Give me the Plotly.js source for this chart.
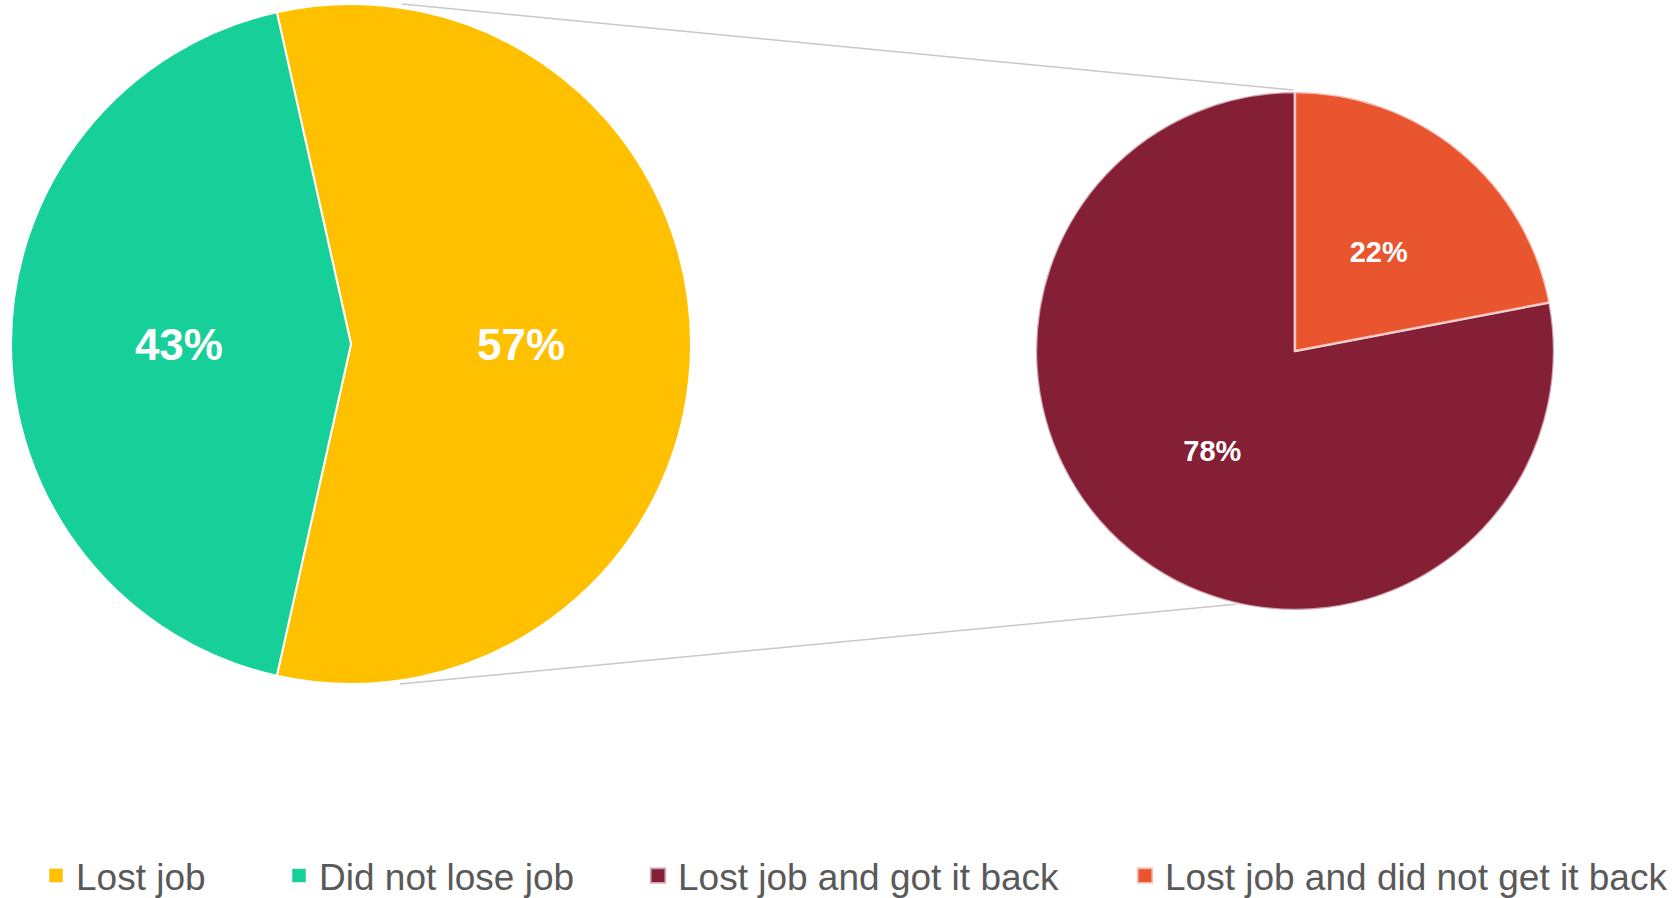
<!DOCTYPE html>
<html>
<head>
<meta charset="utf-8">
<script src="https://cdn.plot.ly/plotly-3.0.1.min.js"></script>
<style>html,body{margin:0;padding:0;background:#fff;}#chart{width:1675px;height:898px;}</style>
</head>
<body>
<div id="chart"></div>
<script>
// Data
const mainLabels = ["Lost job", "Did not lose job"];
const mainValues = [57, 43];
const mainColors = ["#FFC000", "#17CF99"];

const subLabels = ["Lost job and got it back", "Lost job and did not get it back"];
const subValues = [78, 22];
const subColors = ["#841F36", "#E9552F"];

const W = 1675, H = 898;
const px = x => x / W;
const py = y => 1 - y / H;

const traces = [
  {
    type: "pie",
    labels: mainLabels,
    values: mainValues,
    sort: false,
    direction: "clockwise",
    rotation: -12.6,
    marker: { colors: mainColors, line: { color: "#ffffff", width: 2 } },
    textinfo: "percent",
    texttemplate: "%{percent:.0%}",
    textposition: "inside",
    insidetextorientation: "horizontal",
    textfont: { family: "Liberation Sans, Arial, sans-serif", size: 44, color: "#ffffff", weight: "bold" },
    domain: { x: [px(11), px(691)], y: [py(684), py(4)] },
    legend: "legend",
    hoverinfo: "label+percent"
  },
  {
    type: "pie",
    labels: subLabels,
    values: subValues,
    sort: false,
    direction: "clockwise",
    rotation: 79.2,
    marker: { colors: subColors, line: { color: "rgba(255,255,255,0.6)", width: 2.5 } },
    textinfo: "percent",
    texttemplate: "%{percent:.0%}",
    textposition: "inside",
    insidetextorientation: "horizontal",
    textfont: { family: "Liberation Sans, Arial, sans-serif", size: 29, color: "#ffffff", weight: "bold" },
    domain: { x: [px(1036), px(1554)], y: [py(611), py(91)] },
    legend: "legend2",
    hoverinfo: "label+percent"
  }
];

const legendFont = { family: "Liberation Sans, Arial, sans-serif", size: 37, color: "#595959" };

const layout = {
  width: W,
  height: H,
  margin: { l: 0, r: 0, t: 0, b: 0, autoexpand: false },
  paper_bgcolor: "#ffffff",
  showlegend: true,
  legend: {
    orientation: "h",
    x: px(36), y: py(876), xanchor: "left", yanchor: "middle",
    font: legendFont,
    entrywidth: 198, entrywidthmode: "pixels",
    bgcolor: "rgba(0,0,0,0)"
  },
  legend2: {
    orientation: "h",
    x: px(638), y: py(876), xanchor: "left", yanchor: "middle",
    font: legendFont,
    entrywidth: 442, entrywidthmode: "pixels",
    bgcolor: "rgba(0,0,0,0)"
  },
  shapes: [
    { type: "line", xref: "paper", yref: "paper", x0: px(402), y0: py(4), x1: px(1293), y1: py(90),
      line: { color: "#c8c8c8", width: 1.5 }, layer: "below" },
    { type: "line", xref: "paper", yref: "paper", x0: px(400), y0: py(684), x1: px(1238), y1: py(604),
      line: { color: "#c8c8c8", width: 1.5 }, layer: "below" }
  ]
};

Plotly.newPlot("chart", traces, layout, { displayModeBar: false, staticPlot: true }).then(gd => {
  // let the last legend entry's text extend past the fixed entry width
  gd.querySelectorAll("g.legend, g.legend2").forEach(g => {
    g.removeAttribute("clip-path");
    g.querySelectorAll("[clip-path]").forEach(el => el.removeAttribute("clip-path"));
  });
  // slightly larger square swatches, as in the original
  gd.querySelectorAll("g.legend .legendpoints path, g.legend2 .legendpoints path").forEach(p => {
    const t = p.getAttribute("transform") || "";
    p.setAttribute("transform", t + " scale(1.35)");
  });
  // pull the small slice's label a little toward the centre, as in the original
  const pies = gd.querySelectorAll("g.pielayer g.trace");
  if (pies.length > 1) {
    const slices = pies[1].querySelectorAll("g.slice");
    if (slices.length > 1) {
      const txt = slices[1].querySelector("text.slicetext");
      if (txt) {
        const t = txt.getAttribute("transform") || "";
        txt.setAttribute("transform", "translate(-17,23) " + t);
      }
    }
  }
});
</script>
</body>
</html>
